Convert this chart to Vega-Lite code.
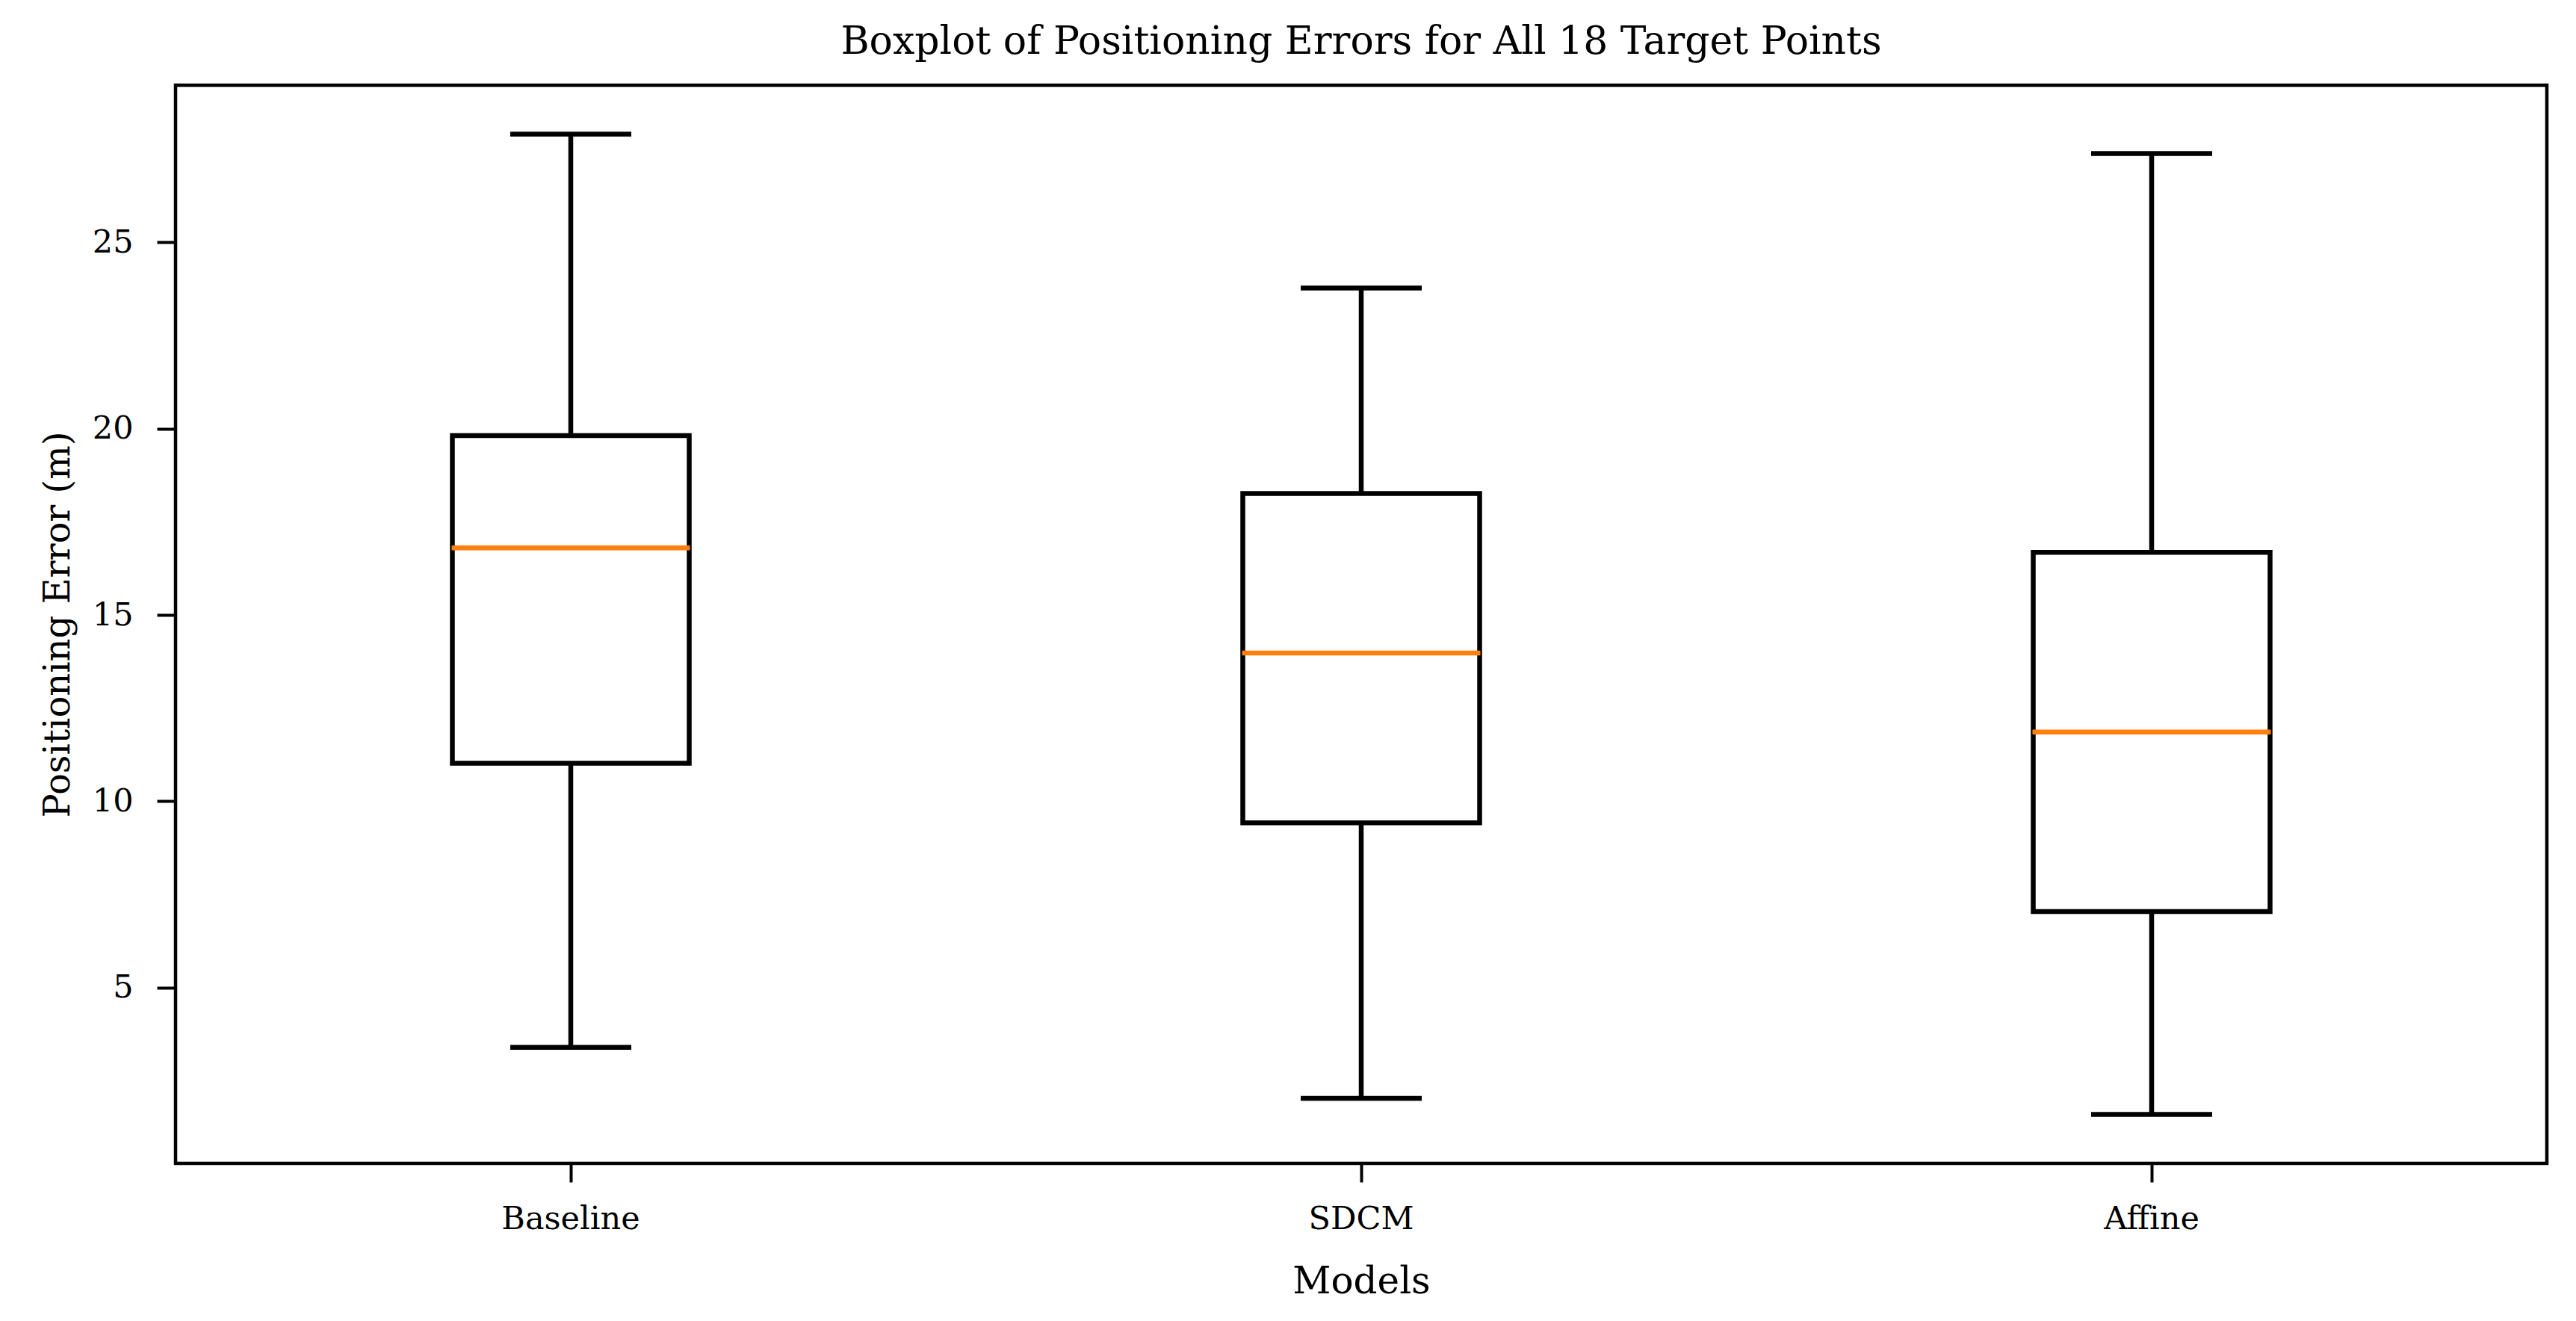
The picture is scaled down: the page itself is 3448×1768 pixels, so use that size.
{
  "$schema": "https://vega.github.io/schema/vega-lite/v6.json",
  "width": 3174,
  "height": 1443,
  "autosize": {"type": "none"},
  "padding": {"left": 235, "top": 114, "right": 39, "bottom": 211},
  "background": "white",
  "config": {
    "view": {"stroke": "black", "strokeWidth": 4.5, "fill": "white"},
    "font": "DejaVu Serif",
    "axis": {
      "labelFont": "DejaVu Serif",
      "titleFont": "DejaVu Serif",
      "labelColor": "black",
      "titleColor": "black",
      "tickColor": "black",
      "tickWidth": 4,
      "tickSize": 25,
      "grid": false,
      "domain": false,
      "labelLimit": 0,
      "titleFontWeight": "normal"
    }
  },
  "title": {
    "text": "Boxplot of Positioning Errors for All 18 Target Points",
    "font": "DejaVu Serif",
    "fontSize": 52,
    "fontWeight": "normal",
    "color": "black",
    "anchor": "middle",
    "baseline": "alphabetic",
    "offset": -10
  },
  "data": {
    "values": [
      {"model": "Baseline", "min": 3.4, "q1": 11.02, "median": 16.8, "q3": 19.81, "max": 27.9},
      {"model": "SDCM", "min": 2.03, "q1": 9.42, "median": 13.98, "q3": 18.26, "max": 23.77},
      {"model": "Affine", "min": 1.6, "q1": 7.04, "median": 11.86, "q3": 16.68, "max": 27.38}
    ]
  },
  "encoding": {
    "x": {
      "field": "model",
      "type": "nominal",
      "sort": ["Baseline", "SDCM", "Affine"],
      "scale": {"type": "band", "paddingInner": 0, "paddingOuter": 0},
      "axis": {
        "title": "Models",
        "labelAngle": 0,
        "labelFontSize": 43,
        "titleFontSize": 50,
        "bandPosition": 0.5,
        "labelBaseline": "alphabetic",
        "labelPadding": 62,
        "titleBaseline": "alphabetic",
        "titleY": 173
      }
    }
  },
  "layer": [
    {
      "mark": {"type": "rule", "color": "black", "strokeWidth": 6.5},
      "encoding": {
        "y": {
          "field": "min",
          "type": "quantitative",
          "scale": {"domain": [0.285, 29.215], "nice": false, "zero": false},
          "axis": {
            "title": "Positioning Error (m)",
            "values": [5, 10, 15, 20, 25],
            "labelFontSize": 43,
            "titleFontSize": 48,
            "labelPadding": 32,
            "titleBaseline": "alphabetic",
            "titleX": -143,
            "titleAngle": -90
          }
        },
        "y2": {"field": "q1"}
      }
    },
    {
      "mark": {"type": "rule", "color": "black", "strokeWidth": 6.5},
      "encoding": {
        "y": {"field": "q3", "type": "quantitative"},
        "y2": {"field": "max"}
      }
    },
    {
      "mark": {"type": "bar", "size": 317, "fill": "white", "fillOpacity": 0, "stroke": "black", "strokeWidth": 6.5},
      "encoding": {
        "y": {"field": "q1", "type": "quantitative"},
        "y2": {"field": "q3"}
      }
    },
    {
      "mark": {"type": "tick", "size": 162, "thickness": 6.5, "color": "black", "opacity": 1},
      "encoding": {
        "y": {"field": "min", "type": "quantitative"}
      }
    },
    {
      "mark": {"type": "tick", "size": 162, "thickness": 6.5, "color": "black", "opacity": 1},
      "encoding": {
        "y": {"field": "max", "type": "quantitative"}
      }
    },
    {
      "mark": {"type": "tick", "size": 319, "thickness": 6.5, "color": "#ff7f0e", "opacity": 1},
      "encoding": {
        "y": {"field": "median", "type": "quantitative"}
      }
    }
  ]
}
